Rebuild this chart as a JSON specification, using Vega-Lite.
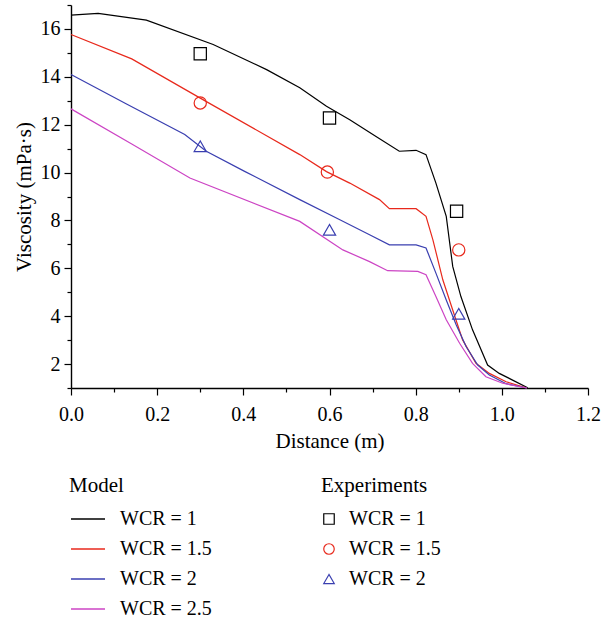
{
  "$schema": "https://vega.github.io/schema/vega-lite/v6.json",
  "width": 517,
  "height": 383,
  "autosize": "none",
  "padding": {"left": 71, "top": 5, "right": 24, "bottom": 237},
  "background": "white",
  "config": {
    "view": {"stroke": null},
    "font": "Liberation Serif",
    "axis": {"grid": false, "domainColor": "black", "tickColor": "black", "labelColor": "black", "titleColor": "black", "labelFont": "Liberation Serif", "titleFont": "Liberation Serif", "labelFontSize": 20, "titleFontSize": 21, "titleFontWeight": "normal", "domainWidth": 1.4, "tickWidth": 1.2},
    "legend": {"titleFont": "Liberation Serif", "labelFont": "Liberation Serif", "titleFontSize": 21, "labelFontSize": 20, "titleFontWeight": "normal", "titleColor": "black", "labelColor": "black"}
  },
  "datasets": {
    "model": [
      {"series": "WCR = 1", "x": 0.0, "y": 16.58},
      {"series": "WCR = 1", "x": 0.063, "y": 16.65},
      {"series": "WCR = 1", "x": 0.175, "y": 16.37},
      {"series": "WCR = 1", "x": 0.33, "y": 15.35},
      {"series": "WCR = 1", "x": 0.454, "y": 14.3},
      {"series": "WCR = 1", "x": 0.531, "y": 13.54},
      {"series": "WCR = 1", "x": 0.593, "y": 12.77},
      {"series": "WCR = 1", "x": 0.647, "y": 12.21},
      {"series": "WCR = 1", "x": 0.708, "y": 11.51},
      {"series": "WCR = 1", "x": 0.762, "y": 10.89},
      {"series": "WCR = 1", "x": 0.801, "y": 10.93},
      {"series": "WCR = 1", "x": 0.824, "y": 10.75},
      {"series": "WCR = 1", "x": 0.847, "y": 9.56},
      {"series": "WCR = 1", "x": 0.871, "y": 8.17},
      {"series": "WCR = 1", "x": 0.886, "y": 6.08},
      {"series": "WCR = 1", "x": 0.905, "y": 4.82},
      {"series": "WCR = 1", "x": 0.932, "y": 3.43},
      {"series": "WCR = 1", "x": 0.967, "y": 1.96},
      {"series": "WCR = 1", "x": 0.994, "y": 1.61},
      {"series": "WCR = 1", "x": 1.025, "y": 1.33},
      {"series": "WCR = 1", "x": 1.06, "y": 1.01},
      {"series": "WCR = 1.5", "x": 0.0, "y": 15.77},
      {"series": "WCR = 1.5", "x": 0.141, "y": 14.75},
      {"series": "WCR = 1.5", "x": 0.299, "y": 13.12},
      {"series": "WCR = 1.5", "x": 0.531, "y": 10.75},
      {"series": "WCR = 1.5", "x": 0.593, "y": 10.04},
      {"series": "WCR = 1.5", "x": 0.647, "y": 9.56},
      {"series": "WCR = 1.5", "x": 0.716, "y": 8.87},
      {"series": "WCR = 1.5", "x": 0.739, "y": 8.49},
      {"series": "WCR = 1.5", "x": 0.801, "y": 8.49},
      {"series": "WCR = 1.5", "x": 0.824, "y": 8.17},
      {"series": "WCR = 1.5", "x": 0.84, "y": 7.19},
      {"series": "WCR = 1.5", "x": 0.863, "y": 5.52},
      {"series": "WCR = 1.5", "x": 0.886, "y": 4.26},
      {"series": "WCR = 1.5", "x": 0.909, "y": 3.01},
      {"series": "WCR = 1.5", "x": 0.94, "y": 2.03},
      {"series": "WCR = 1.5", "x": 0.971, "y": 1.61},
      {"series": "WCR = 1.5", "x": 1.01, "y": 1.26},
      {"series": "WCR = 1.5", "x": 1.058, "y": 1.0},
      {"series": "WCR = 2", "x": 0.0, "y": 14.1},
      {"series": "WCR = 2", "x": 0.13, "y": 12.85},
      {"series": "WCR = 2", "x": 0.264, "y": 11.59},
      {"series": "WCR = 2", "x": 0.314, "y": 10.89},
      {"series": "WCR = 2", "x": 0.403, "y": 10.05},
      {"series": "WCR = 2", "x": 0.531, "y": 8.87},
      {"series": "WCR = 2", "x": 0.624, "y": 8.03},
      {"series": "WCR = 2", "x": 0.693, "y": 7.4},
      {"series": "WCR = 2", "x": 0.739, "y": 6.98},
      {"series": "WCR = 2", "x": 0.801, "y": 6.98},
      {"series": "WCR = 2", "x": 0.824, "y": 6.85},
      {"series": "WCR = 2", "x": 0.847, "y": 5.8},
      {"series": "WCR = 2", "x": 0.871, "y": 4.68},
      {"series": "WCR = 2", "x": 0.894, "y": 3.64},
      {"series": "WCR = 2", "x": 0.917, "y": 2.73},
      {"series": "WCR = 2", "x": 0.944, "y": 1.96},
      {"series": "WCR = 2", "x": 0.971, "y": 1.54},
      {"series": "WCR = 2", "x": 1.01, "y": 1.18},
      {"series": "WCR = 2", "x": 1.058, "y": 1.0},
      {"series": "WCR = 2.5", "x": 0.0, "y": 12.66},
      {"series": "WCR = 2.5", "x": 0.14, "y": 11.2},
      {"series": "WCR = 2.5", "x": 0.276, "y": 9.77},
      {"series": "WCR = 2.5", "x": 0.531, "y": 7.96},
      {"series": "WCR = 2.5", "x": 0.631, "y": 6.77},
      {"series": "WCR = 2.5", "x": 0.693, "y": 6.28},
      {"series": "WCR = 2.5", "x": 0.735, "y": 5.9},
      {"series": "WCR = 2.5", "x": 0.805, "y": 5.87},
      {"series": "WCR = 2.5", "x": 0.824, "y": 5.73},
      {"series": "WCR = 2.5", "x": 0.847, "y": 4.82},
      {"series": "WCR = 2.5", "x": 0.871, "y": 3.85},
      {"series": "WCR = 2.5", "x": 0.902, "y": 2.87},
      {"series": "WCR = 2.5", "x": 0.932, "y": 2.03},
      {"series": "WCR = 2.5", "x": 0.963, "y": 1.47},
      {"series": "WCR = 2.5", "x": 1.002, "y": 1.2},
      {"series": "WCR = 2.5", "x": 1.058, "y": 1.0}
    ],
    "exp": [
      {"series": "WCR = 1", "x": 0.3, "y": 14.96},
      {"series": "WCR = 1", "x": 0.6, "y": 12.28},
      {"series": "WCR = 1", "x": 0.895, "y": 8.38},
      {"series": "WCR = 1.5", "x": 0.3, "y": 12.91},
      {"series": "WCR = 1.5", "x": 0.595, "y": 10.02},
      {"series": "WCR = 1.5", "x": 0.9, "y": 6.77},
      {"series": "WCR = 2", "x": 0.3, "y": 11.1},
      {"series": "WCR = 2", "x": 0.6, "y": 7.61},
      {"series": "WCR = 2", "x": 0.9, "y": 4.1}
    ]
  },
  "encoding": {
    "x": {
      "field": "x", "type": "quantitative",
      "scale": {"domain": [0, 1.2], "nice": false, "zero": false},
      "axis": {
        "title": "Distance (m)",
        "values": [0, 0.1, 0.2, 0.3, 0.4, 0.5, 0.6, 0.7, 0.8, 0.9, 1.0, 1.1, 1.2],
        "labelExpr": "round(datum.value*10) % 2 == 0 ? format(datum.value, '.1f') : ''",
        "tickSize": {"condition": {"test": "round(datum.value*10) % 2 == 0", "value": 7}, "value": 4},
        "labelPadding": 9,
        "titlePadding": 6,
        "labelFlush": false
      }
    },
    "y": {
      "field": "y", "type": "quantitative",
      "scale": {"domain": [1, 17], "nice": false, "zero": false},
      "axis": {
        "title": "Viscosity (mPa·s)",
        "values": [1, 2, 3, 4, 5, 6, 7, 8, 9, 10, 11, 12, 13, 14, 15, 16, 17],
        "labelExpr": "datum.value % 2 == 0 ? datum.label : ''",
        "tickSize": {"condition": {"test": "datum.value % 2 == 0", "value": 7}, "value": 4},
        "labelPadding": 4,
        "titlePadding": 6,
        "labelFlush": false
      }
    }
  },
  "layer": [
    {
      "data": {"name": "model"},
      "mark": {"type": "line", "strokeWidth": 1.2},
      "encoding": {
        "stroke": {
          "field": "series", "type": "nominal",
          "scale": {"domain": ["WCR = 1", "WCR = 1.5", "WCR = 2", "WCR = 2.5"], "range": ["#000000", "#e8291c", "#3a3fb0", "#cc44c4"]},
          "legend": {"title": "Model", "orient": "none", "legendX": -2, "legendY": 470, "symbolType": "stroke", "symbolSize": 1156, "symbolStrokeWidth": 1.5, "symbolOffset": 1, "labelOffset": 14, "rowPadding": 2, "titlePadding": 5}
        }
      }
    },
    {
      "data": {"name": "exp"},
      "mark": {"type": "point", "filled": false, "size": 150, "strokeWidth": 1.2, "opacity": 1},
      "encoding": {
        "color": {
          "field": "series", "type": "nominal",
          "scale": {"domain": ["WCR = 1", "WCR = 1.5", "WCR = 2"], "range": ["#000000", "#e8291c", "#3a3fb0"]},
          "legend": {"title": "Experiments", "orient": "none", "legendX": 250, "legendY": 470, "symbolSize": 110, "symbolStrokeWidth": 1.2, "symbolOffset": -2, "labelOffset": 10, "rowPadding": 10, "titlePadding": 13}
        },
        "shape": {
          "field": "series", "type": "nominal",
          "scale": {"domain": ["WCR = 1", "WCR = 1.5", "WCR = 2"], "range": ["square", "circle", "triangle-up"]},
          "legend": {"title": "Experiments", "orient": "none", "legendX": 250, "legendY": 470, "symbolSize": 110, "symbolStrokeWidth": 1.2, "symbolOffset": -2, "labelOffset": 10, "rowPadding": 10, "titlePadding": 13}
        }
      }
    }
  ]
}
